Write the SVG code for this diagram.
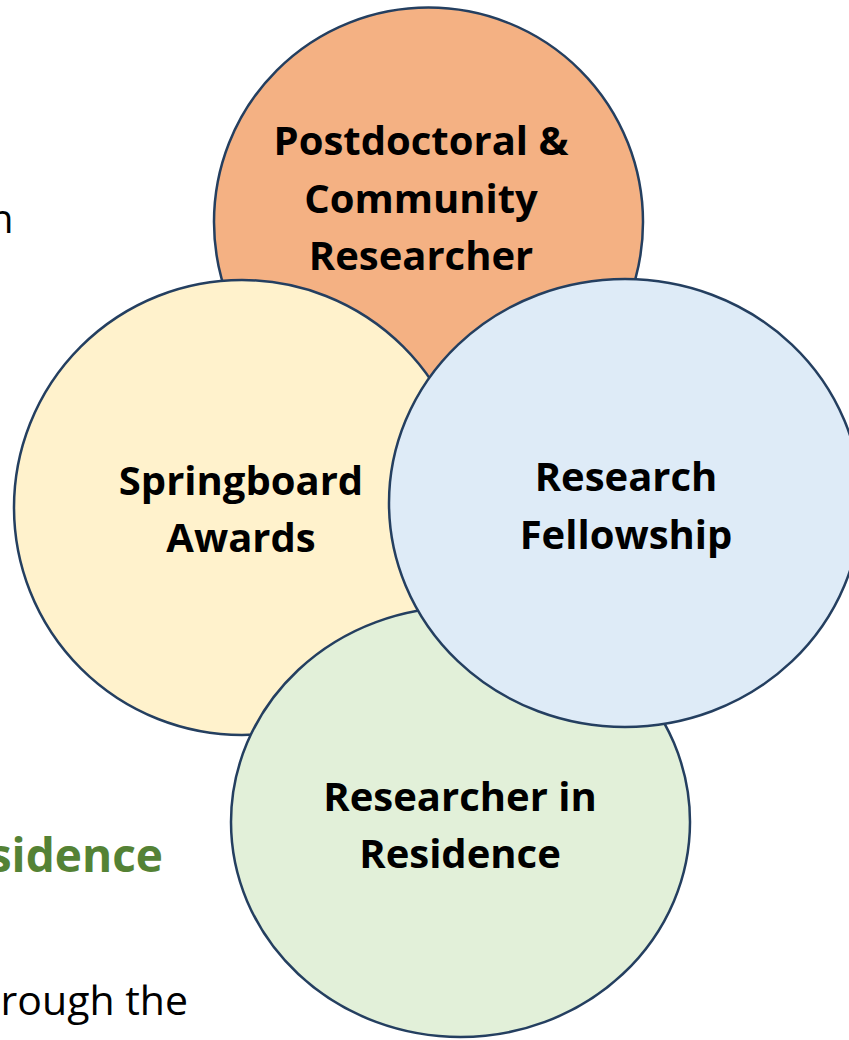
<svg xmlns="http://www.w3.org/2000/svg" width="849" height="1040" viewBox="0 0 849 1040">
<style>
.c{stroke:#243f60;stroke-width:2.5}
.t{font-family:"Open Sans",Lato,"Liberation Sans",sans-serif;font-weight:bold;font-size:40px;fill:#000;text-anchor:middle}
.bg{font-family:"Open Sans",Lato,"Liberation Sans",sans-serif;font-size:40px;fill:#000}
</style>
<rect width="849" height="1040" fill="#fff"/>
<g id="background-text">
<text class="bg" x="-11" y="233">n</text>
<text x="163" y="872" text-anchor="end" style="font-family:'Open Sans',Lato,'Liberation Sans',sans-serif;font-weight:bold;font-size:46px;fill:#548235">sidence</text>
<text class="bg" x="188" y="1015" text-anchor="end" style="font-size:41px">rough the</text>
</g>
<g id="node-postdoctoral">
<circle class="c" cx="428.5" cy="222" r="214.5" fill="#f4b183"/>
<text class="t" x="421" y="155">Postdoctoral &amp;</text>
<text class="t" x="421" y="213">Community</text>
<text class="t" x="421" y="270">Researcher</text>
</g>
<g id="node-springboard">
<ellipse class="c" cx="242" cy="507.5" rx="228" ry="227.5" fill="#fff2cc"/>
<text class="t" x="241" y="495">Springboard</text>
<text class="t" x="241" y="552">Awards</text>
</g>
<g id="node-residence">
<ellipse class="c" cx="460.5" cy="822" rx="229.5" ry="215" fill="#e2f0d9"/>
<text class="t" x="460" y="811">Researcher in</text>
<text class="t" x="460" y="868">Residence</text>
</g>
<g id="node-fellowship">
<ellipse class="c" cx="625" cy="503" rx="236" ry="224" fill="#deebf7"/>
<text class="t" x="626" y="491">Research</text>
<text class="t" x="626" y="549">Fellowship</text>
</g>
<g id="connectors"/>
</svg>
